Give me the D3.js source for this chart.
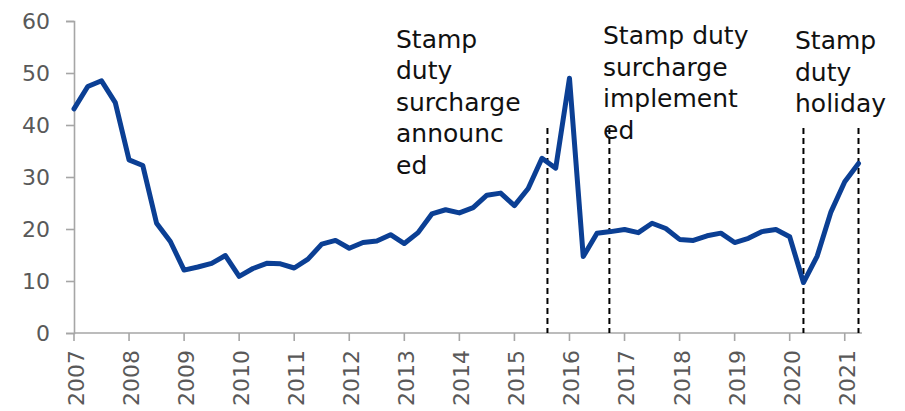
<!DOCTYPE html>
<html>
<head>
<meta charset="utf-8">
<script src="https://cdn.jsdelivr.net/npm/d3@7/dist/d3.min.js"></script>
<style>
  html, body { margin: 0; padding: 0; background: #fff; }
  svg { display: block; }
</style>
</head>
<body>
<svg id="chart" width="905" height="411"></svg>
<script>
// ---- data ----
const years = ["2007","2008","2009","2010","2011","2012","2013","2014","2015","2016","2017","2018","2019","2020","2021"];
// quarterly values, 2007 Q1 ... 2021 Q2
const values = [
  43.1, 47.4, 48.5, 44.3,
  33.3, 32.2, 21.1, 17.6,
  12.1, 12.7, 13.4, 14.9,
  10.9, 12.4, 13.4, 13.3,
  12.5, 14.2, 17.1, 17.8,
  16.3, 17.4, 17.7, 18.9,
  17.2, 19.3, 22.9, 23.7,
  23.1, 24.1, 26.5, 26.9,
  24.5, 27.8, 33.6, 31.7,
  49.0, 14.7, 19.2, 19.5,
  19.9, 19.3, 21.1, 20.1,
  18.0, 17.8, 18.7, 19.2,
  17.4, 18.2, 19.5, 19.9,
  18.5, 9.7, 14.8, 23.3,
  29.1, 32.6
];
const yTicks = [0, 10, 20, 30, 40, 50, 60];
// events (position in quarters from 2007 Q1)
const eventPositions = [34.4, 38.9, 53, 57];
const eventTopValue = 39.4;
const annotationLines = [
  ["Stamp", "duty", "surcharge", "announc", "ed"],
  ["Stamp duty", "surcharge", "implement", "ed"],
  ["Stamp", "duty", "holiday"]
];

// ---- layout ----
const svg = d3.select("#chart");
const x = d3.scaleLinear().domain([0, values.length - 1]).range([74, 858.5]);
const y = d3.scaleLinear().domain([0, 60]).range([333, 21]);
const axisColor = "#a6a6a6";
const labelColor = "#595959";
const fontFamily = "'DejaVu Sans', sans-serif";

// y axis
const yAxis = d3.axisLeft(y).tickValues(yTicks).tickSize(8).tickPadding(16);
const gy = svg.append("g").attr("transform", `translate(${x(0)},0)`).call(yAxis);
gy.select(".domain").attr("stroke", axisColor).attr("stroke-width", 1.6);
gy.selectAll(".tick line").attr("stroke", axisColor).attr("stroke-width", 1.6);
gy.selectAll(".tick text")
  .attr("fill", labelColor)
  .style("font-family", fontFamily)
  .style("font-size", "22px");

// x axis
const gx = svg.append("g").attr("transform", `translate(0,${y(0)})`);
gx.append("line")
  .attr("x1", x(0)).attr("x2", x(values.length - 1 + 0.25))
  .attr("y1", 0).attr("y2", 0)
  .attr("stroke", axisColor).attr("stroke-width", 1.6);
const xt = gx.selectAll("g.xt").data(years).join("g")
  .attr("class", "xt")
  .attr("transform", (d, i) => `translate(${x(i * 4)},0)`);
xt.append("line").attr("y1", 0).attr("y2", 8).attr("stroke", axisColor).attr("stroke-width", 1.6);
xt.append("text")
  .attr("transform", "translate(2,17) rotate(-90)")
  .attr("text-anchor", "end")
  .attr("dy", "0.36em")
  .attr("fill", labelColor)
  .style("font-family", fontFamily)
  .style("font-size", "22px")
  .text(d => d);

// event dashed lines
svg.append("g").selectAll("line").data(eventPositions).join("line")
  .attr("x1", d => x(d)).attr("x2", d => x(d))
  .attr("y1", y(eventTopValue)).attr("y2", y(0))
  .attr("stroke", "#000").attr("stroke-width", 2)
  .attr("stroke-dasharray", "6,4");

// data line
const line = d3.line().x((d, i) => x(i)).y(d => y(d));
svg.append("path")
  .datum(values)
  .attr("d", line)
  .attr("fill", "none")
  .attr("stroke", "#0b3f94")
  .attr("stroke-width", 5)
  .attr("stroke-linejoin", "round")
  .attr("stroke-linecap", "round");

// annotations
const annoPos = [[396, 47.7], [603, 44.3], [795, 49.3]];
const lineHeight = 31.5;
annotationLines.forEach((lines, k) => {
  const t = svg.append("text")
    .attr("x", annoPos[k][0]).attr("y", annoPos[k][1])
    .attr("fill", "#111")
    .style("font-family", fontFamily)
    .style("font-size", "25px");
  lines.forEach((s, j) => {
    t.append("tspan").attr("x", annoPos[k][0]).attr("y", annoPos[k][1] + j * lineHeight).text(s);
  });
});
</script>
</body>
</html>
